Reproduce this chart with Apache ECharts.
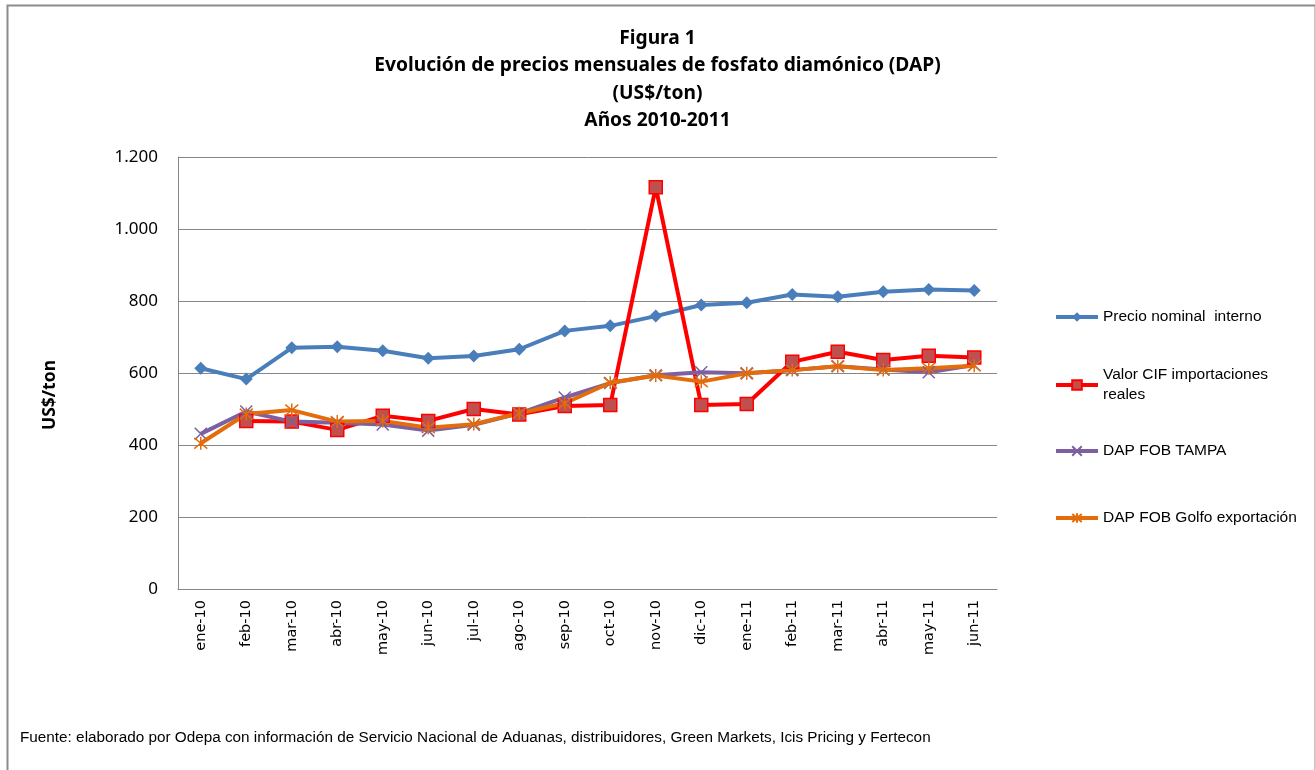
<!DOCTYPE html>
<html>
<head>
<meta charset="utf-8">
<script src="https://cdn.jsdelivr.net/npm/echarts@6/dist/echarts.min.js"></script>
<style>html,body{margin:0;padding:0;background:#fff}#c{width:1315px;height:770px}</style>
</head>
<body>
<div id="c"></div>
<script>
const categories = ['ene-10','feb-10','mar-10','abr-10','may-10','jun-10','jul-10','ago-10','sep-10','oct-10','nov-10','dic-10','ene-11','feb-11','mar-11','abr-11','may-11','jun-11'];
const precioNominal = [613, 583, 670, 673, 662, 641, 647, 666, 717, 731, 758, 789, 795, 818, 812, 826, 832, 829];
const valorCIF = [null, 467, 465, 442, 481, 467, 500, 485, 508, 511, 1116, 511, 514, 631, 659, 636, 648, 643];
const fobTampa = [431, 493, 465, 462, 457, 440, 456, 488, 532, 572, 594, 602, 599, 608, 619, 610, 602, 622];
const fobGolfo = [405, 486, 497, 465, 467, 448, 458, 488, 516, 573, 593, 576, 599, 608, 619, 608, 613, 620];
const yTicks = {min: 0, max: 1200, interval: 200};
const seriesNames = ['Precio nominal  interno', 'Valor CIF importaciones reales', 'DAP FOB TAMPA', 'DAP FOB Golfo exportación'];

const xPath = 'path://M0,0L10,10M10,0L0,10';
const starPath = 'path://M0,0L10,10M10,0L0,10M5,-1L5,11';

const chart = echarts.init(document.getElementById('c'));
const legendBase = {
  orient: 'vertical', left: 1049, itemWidth: 42, itemHeight: 12, itemGap: 5,
  lineStyle: {width: 4},
  textStyle: {fontFamily: 'Liberation Sans', fontSize: 15.5, color: '#000', lineHeight: 20}
};
chart.setOption({
  animation: false,
  backgroundColor: '#fff',
  title: {
    text: 'Figura 1\nEvolución de precios mensuales de fosfato diamónico (DAP)\n(US$/ton)\nAños 2010-2011',
    left: 'center', top: 20,
    textStyle: {fontFamily: 'Noto Sans', fontWeight: 'bold', fontSize: 19.2, lineHeight: 27.3, color: '#000'}
  },
  legend: [
    Object.assign({}, legendBase, {top: 302, data: [seriesNames[0]]}),
    Object.assign({}, legendBase, {top: 350, data: [seriesNames[1]],
      formatter: n => 'Valor CIF importaciones\nreales',
      textStyle: Object.assign({}, legendBase.textStyle, {padding: [20, 0, 0, 0]})}),
    Object.assign({}, legendBase, {top: 436, data: [seriesNames[2]]}),
    Object.assign({}, legendBase, {top: 503, data: [seriesNames[3]]})
  ],
  grid: {left: 178, right: 318, top: 157, bottom: 181},
  xAxis: {
    type: 'category', data: categories, boundaryGap: true,
    axisLine: {lineStyle: {color: '#868686', width: 1}},
    axisTick: {show: false},
    axisLabel: {rotate: 90, fontFamily: 'DejaVu Sans', fontSize: 14.5, color: '#000', margin: 11, interval: 0}
  },
  yAxis: {
    type: 'value', min: yTicks.min, max: yTicks.max, interval: yTicks.interval,
    axisLine: {show: true, lineStyle: {color: '#868686', width: 1}},
    axisTick: {show: false},
    splitLine: {lineStyle: {color: '#868686', width: 1}},
    axisLabel: {fontFamily: 'Noto Sans', fontSize: 17, color: '#000', margin: 20,
      formatter: v => v >= 1000 ? Math.floor(v/1000) + '.' + String(v % 1000).padStart(3, '0') : String(v)}
  },
  series: [
    {name: seriesNames[0], type: 'line', data: precioNominal,
      lineStyle: {color: '#4A7EBB', width: 4}, itemStyle: {color: '#4A7EBB'},
      symbol: 'diamond', symbolSize: 13},
    {name: seriesNames[1], type: 'line', data: valorCIF,
      lineStyle: {color: '#FF0000', width: 4}, itemStyle: {color: '#C0504D', borderColor: '#FF0000', borderWidth: 1.5},
      symbol: 'rect', symbolSize: 13},
    {name: seriesNames[2], type: 'line', data: fobTampa,
      lineStyle: {color: '#7D60A0', width: 4}, itemStyle: {color: '#7D60A0', borderColor: '#7D60A0', borderWidth: 1.5},
      symbol: xPath, symbolSize: 12},
    {name: seriesNames[3], type: 'line', data: fobGolfo,
      lineStyle: {color: '#E46C0A', width: 4}, itemStyle: {color: '#E46C0A', borderColor: '#E46C0A', borderWidth: 1.5},
      symbol: starPath, symbolSize: 13}
  ],
  graphic: [
    {type: 'rect', left: 5, top: 3, shape: {x: 0, y: 0, width: 1308, height: 790}, silent: true,
      style: {fill: 'none', stroke: '#8c8c8c', lineWidth: 2}, z: -1},
    {type: 'text', x: 50, y: 395, rotation: Math.PI / 2,
      style: {text: 'US$/ton', fontFamily: 'Noto Sans', fontWeight: 'bold', fontSize: 17.5, fill: '#000',
        textAlign: 'center', textVerticalAlign: 'middle'}},
    {type: 'text', left: 20, top: 730,
      style: {text: 'Fuente: elaborado por Odepa con información de Servicio Nacional de Aduanas, distribuidores, Green Markets, Icis Pricing y Fertecon',
        fontFamily: 'Liberation Sans', fontSize: 15.3, fill: '#000'}}
  ]
});
</script>
</body>
</html>
